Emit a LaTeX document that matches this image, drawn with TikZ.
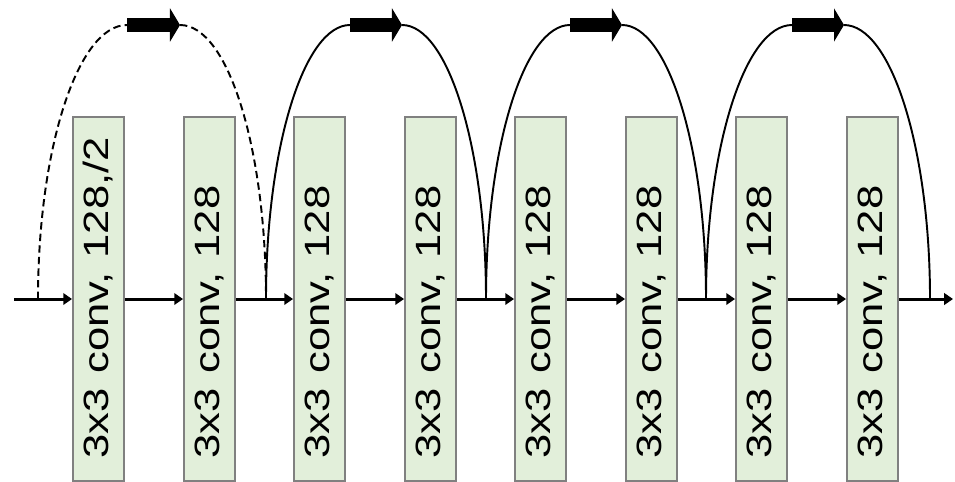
\documentclass[tikz,border=0pt]{standalone}
\usepackage{graphicx}
\usepackage{fontspec}
\setmainfont{Liberation Sans}
\usetikzlibrary{arrows.meta}
\definecolor{convfill}{RGB}{226,239,218}
\definecolor{convline}{RGB}{128,128,128}
\newcommand{\tallconv}[1]{\scalebox{1.24}[1]{#1}}

\begin{document}
\begin{tikzpicture}[x=0.02cm,y=-0.02cm,
    conv/.style={draw=convline,fill=convfill,line width=1.1pt,rotate=90,minimum width=7.28cm,minimum height=1.02cm,
      inner xsep=0.45cm,inner ysep=0pt,text width=6.38cm,align=left,font=\fontsize{20}{23}\selectfont},
    flow/.style={line width=1.7pt,-{Triangle[length=5pt,width=6.5pt]}},
    skip/.style={line width=1.1pt},
    shortcut/.style={skip,dash pattern=on 4.2pt off 2.4pt},
    topdir/.style={line width=8.5pt,-{Triangle[length=5.7pt,width=18.8pt]}}
  ]
  \useasboundingbox (0,0) rectangle (955,481);

  % the eight conv layers
  \node[conv] (c1) at (98.5,299) {\tallconv{3x3 conv, 128,/2}};
  \node[conv] (c2) at (209.5,299) {\tallconv{3x3 conv, 128}};
  \node[conv] (c3) at (319.5,299) {\tallconv{3x3 conv, 128}};
  \node[conv] (c4) at (430.5,299) {\tallconv{3x3 conv, 128}};
  \node[conv] (c5) at (540.5,299) {\tallconv{3x3 conv, 128}};
  \node[conv] (c6) at (651.5,299) {\tallconv{3x3 conv, 128}};
  \node[conv] (c7) at (761.5,299) {\tallconv{3x3 conv, 128}};
  \node[conv] (c8) at (872.5,299) {\tallconv{3x3 conv, 128}};

  % main path
  \coordinate (in) at (14,299);
  \coordinate (out) at (953,299);
  \draw[flow] (in) -- (c1);
  \foreach \i [evaluate=\i as \j using int(\i+1)] in {1,...,7}
    \draw[flow] (c\i) -- (c\j);
  \draw[flow] (c8) -- (out);

  % joints on the main path and arrows on top
  \coordinate (j0) at (38,299);
  \coordinate (j1) at (266,299);
  \coordinate (j2) at (486,299);
  \coordinate (j3) at (706,299);
  \coordinate (j4) at (930,299);
  \coordinate (s1a) at (127,25);  \coordinate (s1b) at (180,25);
  \coordinate (s2a) at (350,25);  \coordinate (s2b) at (402,25);
  \coordinate (s3a) at (570,25);  \coordinate (s3b) at (622,25);
  \coordinate (s4a) at (792,25);  \coordinate (s4b) at (844,25);

  % shortcut connections
  \draw[shortcut] (j0) .. controls +(0,-151) and +(-49,0) .. (s1a);
  \draw[shortcut] (s1b) .. controls +(48,0) and +(0,-151) .. (j1);
  \draw[skip] (j1) .. controls +(0,-151) and +(-46,0) .. (s2a);
  \draw[skip] (s2b) .. controls +(46,0) and +(0,-151) .. (j2);
  \draw[skip] (j2) .. controls +(0,-151) and +(-46,0) .. (s3a);
  \draw[skip] (s3b) .. controls +(46,0) and +(0,-151) .. (j3);
  \draw[skip] (j3) .. controls +(0,-151) and +(-47,0) .. (s4a);
  \draw[skip] (s4b) .. controls +(47,0) and +(0,-151) .. (j4);
  \foreach \k in {1,...,4}
    \draw[topdir] (s\k a) -- (s\k b);
\end{tikzpicture}
\end{document}
